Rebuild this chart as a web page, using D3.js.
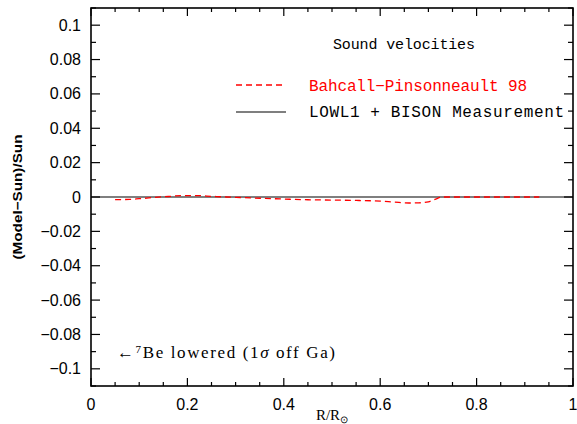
<!DOCTYPE html>
<html><head><meta charset="utf-8">
<script src="https://cdn.jsdelivr.net/npm/d3@7"></script>
<style>body{margin:0;background:#fff}</style>
</head><body>
<script>
const radius = [0.05,0.08,0.10,0.13,0.16,0.19,0.22,0.25,0.28,0.31,0.34,0.40,0.45,0.50,0.55,0.60,0.63,0.66,0.68,0.70,0.715,0.73,0.80,0.93];
const bp98 = [-0.0015,-0.0014,-0.0010,-0.0003,0.0003,0.0008,0.0008,0.0004,0.0000,-0.0003,-0.0006,-0.0012,-0.0016,-0.0018,-0.0020,-0.0024,-0.0030,-0.0035,-0.0034,-0.0028,-0.0012,0.0000,0.0000,0.0000];
const measured = [[0,0],[1,0]];
const xTicks = [0,0.2,0.4,0.6,0.8,1];
const xTickLabels = ["0","0.2","0.4","0.6","0.8","1"];
const yTicks = [-0.1,-0.08,-0.06,-0.04,-0.02,0,0.02,0.04,0.06,0.08,0.1];
const yTickLabels = ["\u22120.1","\u22120.08","\u22120.06","\u22120.04","\u22120.02","0","0.02","0.04","0.06","0.08","0.1"];

const W=577,H=424;
const L=91,R=573,T=8,B=386;
const svg=d3.select("body").append("svg").attr("width",W).attr("height",H);
const x=d3.scaleLinear().domain([0,1]).range([L,R]);
const y=d3.scaleLinear().domain([-0.11,0.11]).range([B,T]);

const minorX=d3.range(0,1.0001,0.05);
const minorY=d3.range(-0.11,0.1101,0.01).map(v=>Math.round(v*100)/100);
const g=svg.append("g").attr("stroke","#000").attr("stroke-width",1.2);
minorX.forEach(v=>{
  const major=Math.abs(v*5-Math.round(v*5))<1e-6;
  const len=major?8:4;
  g.append("line").attr("x1",x(v)).attr("x2",x(v)).attr("y1",B).attr("y2",B-len);
  g.append("line").attr("x1",x(v)).attr("x2",x(v)).attr("y1",T).attr("y2",T+len);
});
minorY.forEach(v=>{
  const major=Math.abs(v*50-Math.round(v*50))<1e-6;
  const len=major?9:5;
  g.append("line").attr("y1",y(v)).attr("y2",y(v)).attr("x1",L).attr("x2",L+len);
  g.append("line").attr("y1",y(v)).attr("y2",y(v)).attr("x1",R).attr("x2",R-len);
});
svg.append("rect").attr("x",L).attr("y",T).attr("width",R-L).attr("height",B-T)
  .attr("fill","none").attr("stroke","#000").attr("stroke-width",1.6);

const sans="Liberation Sans, Arial, sans-serif";
svg.append("g").selectAll("text").data(xTicks).join("text")
  .attr("x",d=>x(d)).attr("y",410).attr("text-anchor","middle")
  .attr("font-family",sans).attr("font-size",16).text((d,i)=>xTickLabels[i]);
svg.append("g").selectAll("text").data(yTicks).join("text")
  .attr("x",81).attr("y",d=>y(d)+5.5).attr("text-anchor","end")
  .attr("font-family",sans).attr("font-size",16).text((d,i)=>yTickLabels[i]);

const xl=svg.append("text").attr("x",332).attr("y",420).attr("text-anchor","middle")
  .attr("font-family","Liberation Serif, serif").attr("font-size",15);
xl.append("tspan").text("R/R");
xl.append("tspan").attr("font-size",10).attr("dy",3).text("\u2299");
svg.append("text").attr("transform","translate(22,197) rotate(-90)").attr("text-anchor","middle")
  .attr("font-family",sans).attr("font-weight","bold").attr("font-size",13)
  .attr("textLength",125).attr("lengthAdjust","spacingAndGlyphs").text("(Model\u2212Sun)/Sun");

const line=d3.line().x(d=>x(d[0])).y(d=>y(d[1]));
svg.append("path").datum(measured).attr("d",line).attr("fill","none").attr("stroke","#000").attr("stroke-width",1.2);
svg.append("path").datum(radius.map((r,i)=>[r,bp98[i]])).attr("d",line.curve(d3.curveMonotoneX))
  .attr("fill","none").attr("stroke","#f00").attr("stroke-width",1.3).attr("stroke-dasharray","6,4");

const mono="Liberation Mono, Courier New, monospace";
svg.append("text").attr("x",333).attr("y",49).attr("font-family",mono).attr("font-size",15)
  .attr("textLength",142).text("Sound velocities");
svg.append("line").attr("x1",236).attr("x2",286).attr("y1",85).attr("y2",85)
  .attr("stroke","#f00").attr("stroke-width",1.3).attr("stroke-dasharray","6,4");
svg.append("text").attr("x",309).attr("y",91).attr("font-family",mono).attr("font-size",16).attr("fill","#f00")
  .attr("textLength",218).text("Bahcall\u2212Pinsonneault 98");
svg.append("line").attr("x1",236).attr("x2",286).attr("y1",112).attr("y2",112)
  .attr("stroke","#000").attr("stroke-width",1.2);
svg.append("text").attr("x",309).attr("y",117).attr("font-family",mono).attr("font-size",16)
  .attr("textLength",255).text("LOWL1 + BISON Measurement");

const an=svg.append("text").attr("x",117).attr("y",358).attr("font-family","Liberation Serif, serif").attr("font-size",17)
  .attr("textLength",218);
an.append("tspan").text("\u2190");
an.append("tspan").attr("font-size",11).attr("dy",-5).text("7");
an.append("tspan").attr("dy",5).text("Be lowered (1");
an.append("tspan").attr("font-style","italic").text("\u03C3");
an.append("tspan").text(" off Ga)");
</script>
</body></html>
